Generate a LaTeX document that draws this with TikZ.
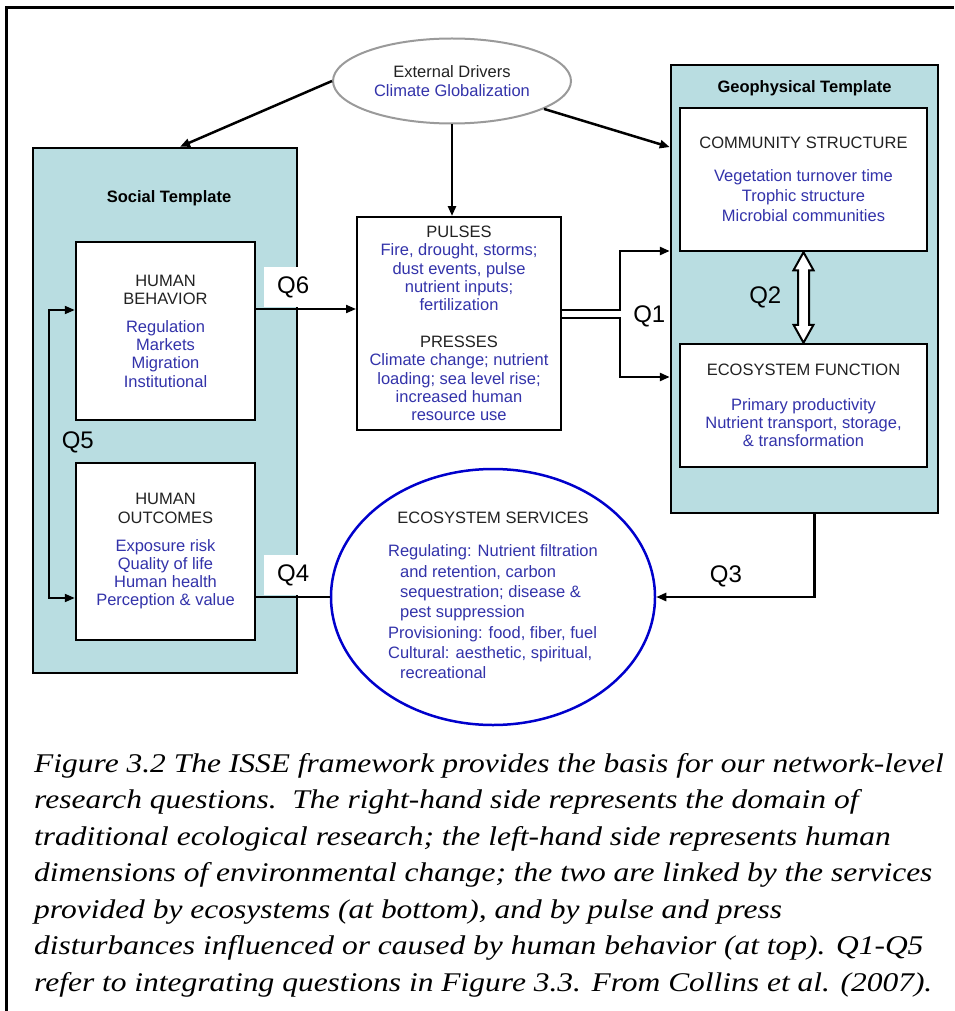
\documentclass[tikz,border=0pt]{standalone}
\usepackage{fontspec}
\setmainfont{Liberation Serif}
\setsansfont{Liberation Sans}
\usepackage{tikz}
\usetikzlibrary{shapes.geometric, arrows.meta, positioning, calc}
\definecolor{templateteal}{HTML}{B9DDE1}
\definecolor{itemblue}{HTML}{3333AA}
\definecolor{serviceblue}{HTML}{0000CC}
\definecolor{drivergray}{HTML}{9A9A9A}
\definecolor{headgray}{HTML}{222222}
\newcommand{\itm}[1]{\textcolor{itemblue}{#1}}

\begin{document}
\begin{tikzpicture}[x=1pt, y=-1pt,
  template/.style={draw, line width=2.5pt, fill=templateteal, inner sep=0pt},
  inbox/.style={draw, line width=2.5pt, fill=white, inner sep=0pt, align=center, text=headgray, font=\sffamily\fontsize{16.5}{18.2}\selectfont},
  qlab/.style={font=\sffamily\fontsize{24}{26}\selectfont, inner sep=0pt},
  qbox/.style={qlab, fill=white, minimum width=58pt, minimum height=40pt},
  link/.style={line width=2.5pt, -{Triangle[length=10pt, width=8pt]}},
  title/.style={font=\sffamily\bfseries\fontsize{16.5}{18}\selectfont, anchor=center}]
  \useasboundingbox (0,0) rectangle (954,1011);
  \draw[line width=3pt] (954,8) -- (6,8) -- (6,1011);

  % External drivers (top)
  \node[draw=drivergray, line width=2pt, ellipse, fill=white, minimum width=238pt, minimum height=85pt, inner sep=0pt, align=center, text=headgray, font=\sffamily\fontsize{16.5}{19}\selectfont] (drivers) at (452,81) {External Drivers\\\itm{Climate Globalization}};

  % Social side (left)
  \node[template, minimum width=264pt, minimum height=525pt, label={[title, xshift=4pt, yshift=-51pt]north:Social Template}] (social) at (165,410.5) {};
  \node[inbox, minimum width=179pt, minimum height=178pt] (behavior) at (165.5,331) {HUMAN\\BEHAVIOR\\[10pt]\itm{Regulation}\\\itm{Markets}\\\itm{Migration}\\\itm{Institutional}};
  \node[inbox, minimum width=179pt, minimum height=177pt] (outcomes) at (165.5,551.5) {HUMAN\\OUTCOMES\\[10pt]\itm{Exposure risk}\\\itm{Quality of life}\\\itm{Human health}\\\itm{Perception \& value}};

  % Disturbances (middle)
  \node[inbox, line width=2pt, minimum width=204pt, minimum height=213pt] (pulses) at (459,323.5) {PULSES\\\itm{Fire, drought, storms;}\\\itm{dust events, pulse}\\\itm{nutrient inputs;}\\\itm{fertilization}\\[19pt]PRESSES\\\itm{Climate change; nutrient}\\\itm{loading; sea level rise;}\\\itm{increased human}\\\itm{resource use}};

  % Geophysical side (right)
  \node[template, minimum width=267pt, minimum height=448pt, label={[title, yshift=-24pt]north:Geophysical Template}] (geo) at (804.5,289) {};
  \node[inbox, minimum width=247pt, minimum height=143pt, font=\sffamily\fontsize{16.5}{20}\selectfont] (community) at (803.5,179.5) {COMMUNITY STRUCTURE\\[13pt]\itm{Vegetation turnover time}\\\itm{Trophic structure}\\\itm{Microbial communities}};
  \node[inbox, minimum width=247pt, minimum height=123pt] (function) at (803.5,405.5) {ECOSYSTEM FUNCTION\\[17pt]\itm{Primary productivity}\\\itm{Nutrient transport, storage,}\\\itm{\& transformation}};

  % Ecosystem services (bottom)
  \node[draw=serviceblue, line width=2.5pt, ellipse, fill=white, minimum width=324pt, minimum height=256pt, inner sep=0pt, text=headgray, font=\sffamily\fontsize{16.5}{20.3}\selectfont] (services) at (493,597) {\begin{tabular}{@{}l@{}}\multicolumn{1}{@{}c@{}}{ECOSYSTEM SERVICES}\\[13pt]\itm{Regulating: Nutrient filtration}\\\hspace*{12pt}\itm{and retention, carbon}\\\hspace*{12pt}\itm{sequestration; disease \&}\\\hspace*{12pt}\itm{pest suppression}\\\itm{Provisioning: food, fiber, fuel}\\\itm{Cultural: aesthetic, spiritual,}\\\hspace*{12pt}\itm{recreational}\end{tabular}};

  % Driver arrows
  \coordinate (geotop) at ($(geo.north west)!0.185!(geo.south west)$);
  \draw[link] (drivers.west) -- ([xshift=15pt]social.north);
  \draw[link] (drivers) -- (drivers |- pulses.north);
  \draw[link] (drivers) -- (geotop);

  % Q links
  \coordinate (q6s) at ([yshift=22pt]behavior.east);
  \draw[link, line width=2pt] (q6s) -- node[qbox, pos=0, anchor=south west, xshift=7pt, yshift=1pt] {Q6} (q6s -| pulses.west);
  \draw[line width=2pt, {Triangle[length=10pt, width=8pt]}-{Triangle[length=10pt, width=8pt]}] ([yshift=21pt]behavior.west) -- ++(-26,0) |- node[qlab, pos=0.23, anchor=west, xshift=12pt] {Q5} ([yshift=-46.5pt]outcomes.west);
  \coordinate (q4s) at ([yshift=-45.5pt]outcomes.east);
  \draw[line width=2pt] (q4s) -- node[qbox, pos=0, anchor=south west, xshift=7pt, yshift=1pt] {Q4} (services.west);
  \coordinate (q1a) at ([yshift=13.5pt]pulses.east);
  \coordinate (q1b) at ([yshift=5.5pt]pulses.east);
  \coordinate (g1) at ([yshift=38pt]geo.west);
  \coordinate (g2) at ([yshift=-88pt]geo.west);
  \draw[link] (q1a) -- ++(58,0) |- (g1);
  \draw[link] (q1b) -- ++(58,0) node[qlab, anchor=west, xshift=12pt, yshift=2pt] {Q1} |- (g2);
  \draw[line width=2pt, fill=white] (community.south) -- ++(10,18) -- ++(-4.5,0) -- ($(function.north)+(5.5,-18)$) -- ++(4.5,0) -- (function.north) -- ++(-10,-18) -- ++(4.5,0) -- ($(community.south)+(-5.5,18)$) -- ++(-4.5,0) -- cycle;
  \node[qlab, anchor=east] (q2) at ($(community.south)!0.5!(function.north)+(-22,0)$) {Q2};
  \draw[link] ([xshift=10pt]geo.south) |- node[qlab, pos=0.78, above=9pt] {Q3} (services.east);

  % Caption
  \node[anchor=north west, inner sep=0pt, align=left, xscale=1.166, font=\itshape\fontsize{27}{36.5}\selectfont] (caption) at (34,753) {Figure 3.2 The ISSE framework provides the basis for our network-level\\research questions.\ \ The right-hand side represents the domain of\\traditional ecological research; the left-hand side represents human\\dimensions of environmental change; the two are linked by the services\\provided by ecosystems (at bottom), and by pulse and press\\disturbances influenced or caused by human behavior (at top). Q1-Q5\\refer to integrating questions in Figure 3.3. From Collins et al. (2007).};
\end{tikzpicture}
\end{document}
